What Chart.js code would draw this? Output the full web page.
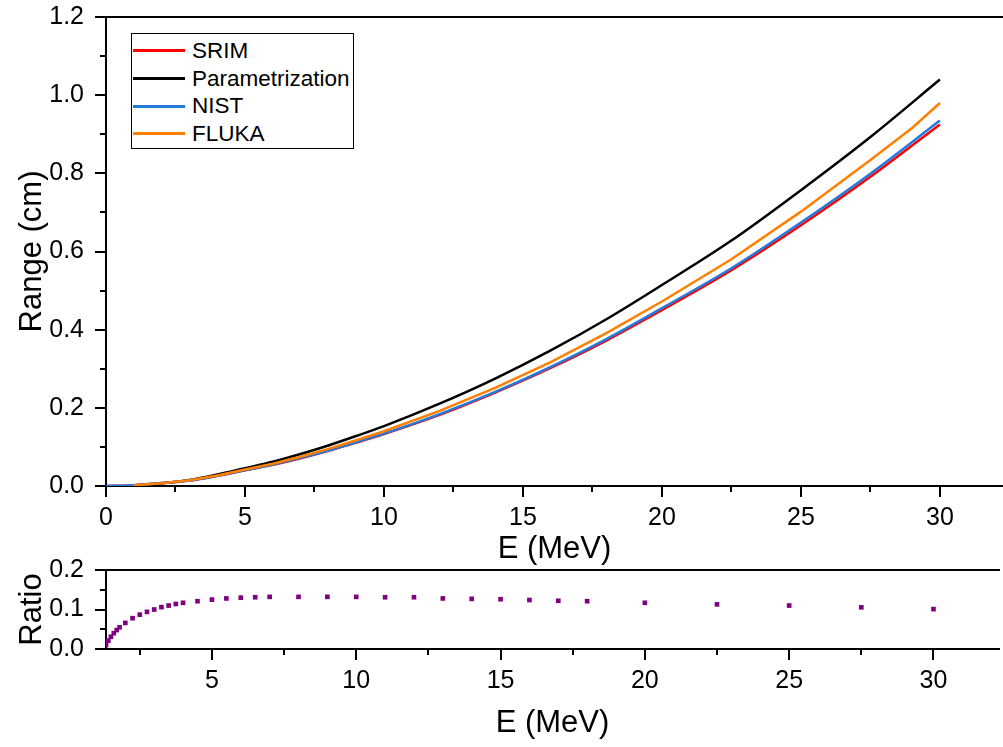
<!DOCTYPE html>
<html>
<head>
<meta charset="utf-8">
<title>Range vs E</title>
<script src="https://cdn.jsdelivr.net/npm/chart.js@4/dist/chart.umd.min.js"></script>
<style>
  body { margin: 0; background: #fff; width: 1003px; height: 747px; overflow: hidden; position: relative;
         font-family: "Liberation Sans", Arial, sans-serif; }
  #topWrap { position: absolute; left: 0; top: 0; width: 1003px; height: 568px; }
  #bottomWrap { position: absolute; left: 0; top: 554px; width: 1003px; height: 193px; }
  #legend { position: absolute; left: 131px; top: 33px; width: 223px; height: 116px; box-sizing: border-box;
            border: 1px solid #000; background: #fff; padding-top: 3px; }
  #legend .row { height: 27.7px; display: flex; align-items: center; font-size: 22.5px; color: #000; }
  #legend .swatch { width: 52px; height: 3px; margin-left: 1px; margin-right: 7px; }
</style>
</head>
<body>
<div id="topWrap"><canvas id="rangeChart" width="1003" height="568"></canvas></div>
<div id="bottomWrap"><canvas id="ratioChart" width="1003" height="193"></canvas></div>
<div id="legend"></div>
<script>
// energy grid for SRIM / NIST / Parametrization curves (MeV)
const energyMeV = [0, 1, 2, 3, 4, 5, 6, 7, 8, 9, 10, 12, 14, 16, 18, 20, 22.5, 25, 27.5, 30];
const srimRange  = [0, 0.002, 0.007, 0.014, 0.026, 0.040, 0.054, 0.071, 0.090, 0.111, 0.133, 0.182, 0.239, 0.302, 0.372, 0.450, 0.552, 0.667, 0.791, 0.925];
const nistRange  = [0, 0.002, 0.007, 0.014, 0.026, 0.040, 0.055, 0.072, 0.091, 0.112, 0.134, 0.184, 0.241, 0.305, 0.376, 0.455, 0.557, 0.674, 0.799, 0.935];
const paramRange = [null, 0.002, 0.0075, 0.0156, 0.0294, 0.0457, 0.0621, 0.0818, 0.1037, 0.1279, 0.1532, 0.2106, 0.2748, 0.3468, 0.4266, 0.5142, 0.628, 0.757, 0.893, 1.040];

// FLUKA has its own energy grid
const flukaEnergy = [1, 2, 3, 4, 5, 6, 7, 8, 9, 10, 12, 14, 16, 18, 20, 22.5, 25, 27.5, 29, 30];
const flukaRange  = [0.002, 0.007, 0.015, 0.027, 0.042, 0.057, 0.075, 0.095, 0.117, 0.140, 0.192, 0.251, 0.317, 0.391, 0.472, 0.580, 0.702, 0.834, 0.916, 0.980];

// ratio panel
const ratioEnergy = [1.33, 1.41, 1.5, 1.6, 1.7, 1.8, 2, 2.25, 2.5, 2.75, 3, 3.25, 3.5, 3.75, 4, 4.5, 5, 5.5, 6, 6.5, 7,
                     8, 9, 10, 11, 12, 13, 14, 15, 16, 17, 18, 20, 22.5, 25, 27.5, 30];
const ratioValues = [0.010, 0.021, 0.031, 0.040, 0.048, 0.055, 0.066, 0.078, 0.087, 0.094, 0.100, 0.106, 0.110, 0.114, 0.117, 0.121, 0.125, 0.128, 0.130, 0.131, 0.132,
                     0.132, 0.132, 0.132, 0.131, 0.131, 0.128, 0.127, 0.126, 0.124, 0.122, 0.121, 0.117, 0.113, 0.110, 0.1055, 0.101];

// tick values
const topXMajor = [0, 5, 10, 15, 20, 25, 30];
const topXMinor = [2.5, 7.5, 12.5, 17.5, 22.5, 27.5];
const topYMajor = [0, 0.2, 0.4, 0.6, 0.8, 1.0, 1.2];
const topYMinor = [0.1, 0.3, 0.5, 0.7, 0.9, 1.1];
const botXMajor = [5, 10, 15, 20, 25, 30];
const botXMinor = [2.5, 7.5, 12.5, 17.5, 22.5, 27.5];
const botYMajor = [0, 0.1, 0.2];
const botYMinor = [0.05, 0.15];

const FONT = '"Liberation Sans", Arial, sans-serif';
Chart.defaults.font.family = FONT;
Chart.defaults.color = '#000';

const pts = (xs, ys) => xs.map((x, i) => ({ x: x, y: ys[i] })).filter(p => p.y !== null);

// draws major/minor tick marks outside the axes
const tickMarks = {
  id: 'tickMarks',
  afterDraw(chart, args, opts) {
    const ctx = chart.ctx;
    ctx.save();
    ctx.strokeStyle = '#000';
    ctx.lineWidth = 2;
    ctx.beginPath();
    opts.marks.forEach(m => {
      const s = chart.scales[m.axis];
      [[m.major, 11], [m.minor, 6]].forEach(([vals, len]) => {
        vals.forEach(v => {
          const p = Math.round(s.getPixelForValue(v));
          if (s.isHorizontal()) { ctx.moveTo(p, s.top); ctx.lineTo(p, s.top + len); }
          else { ctx.moveTo(s.right, p); ctx.lineTo(s.right - len, p); }
        });
      });
    });
    ctx.stroke();
    ctx.restore();
  }
};

// no extra padding from tick labels; the layout padding places the plot area
const noPad = s => { s.paddingTop = 0; s.paddingBottom = 0; s.paddingLeft = 0; s.paddingRight = 0; };

function xAxis(min, max, major, height, titlePadBottom) {
  return {
    type: 'linear', min: min, max: max,
    afterBuildTicks: s => { s.ticks = major.map(v => ({ value: v })); },
    afterFit: s => { s.height = height; noPad(s); },
    grid: { display: false, drawTicks: false },
    border: { display: true, color: '#000', width: 2 },
    ticks: { padding: 17, font: { size: 25 }, maxRotation: 0, autoSkip: false, callback: v => String(v) },
    title: { display: true, text: 'E (MeV)', font: { size: 31 }, padding: { top: 0, bottom: titlePadBottom } }
  };
}
function yAxis(min, max, major, title) {
  return {
    min: min, max: max,
    afterBuildTicks: s => { s.ticks = major.map(v => ({ value: v })); },
    afterFit: s => { s.width = 106; noPad(s); },
    grid: { display: false, drawTicks: false },
    border: { display: true, color: '#000', width: 2 },
    ticks: { padding: 22, font: { size: 25 }, autoSkip: false, callback: v => v.toFixed(1) },
    title: { display: true, text: title, font: { size: 31 }, padding: { top: 14, bottom: 0 } }
  };
}
const topBorder = {
  type: 'linear', position: 'top', min: 0, max: 1,
  afterFit: s => { s.height = 0; noPad(s); },
  grid: { display: false, drawTicks: false },
  ticks: { display: false },
  border: { display: true, color: '#000', width: 2 }
};

const rangeChart = new Chart(document.getElementById('rangeChart'), {
  type: 'line',
  data: {
    datasets: [
      { label: 'SRIM', data: pts(energyMeV, srimRange), borderColor: '#ff0000', order: 4, cubicInterpolationMode: 'monotone' },
      { label: 'Parametrization', data: pts(energyMeV, paramRange), borderColor: '#000000', order: 3, cubicInterpolationMode: 'monotone' },
      { label: 'NIST', data: pts(energyMeV, nistRange), borderColor: '#2479dc', order: 2, cubicInterpolationMode: 'monotone' },
      { label: 'FLUKA', data: pts(flukaEnergy, flukaRange), borderColor: '#ff8000', order: 1 }
    ]
  },
  options: {
    responsive: false,
    animation: false,
    layout: { padding: { top: 17, left: 0, right: 0, bottom: 0 } },
    elements: { line: { borderWidth: 2.5, fill: false }, point: { radius: 0 } },
    scales: {
      x: xAxis(0, 32.27, topXMajor, 82, 0),
      xTop: topBorder,
      y: yAxis(0, 1.2, topYMajor, 'Range (cm)')
    },
    plugins: {
      legend: { display: false },
      tooltip: { enabled: false },
      tickMarks: { marks: [
        { axis: 'x', major: topXMajor, minor: topXMinor },
        { axis: 'y', major: topYMajor, minor: topYMinor }
      ] }
    }
  },
  plugins: [tickMarks]
});

new Chart(document.getElementById('ratioChart'), {
  type: 'scatter',
  data: {
    datasets: [
      { label: 'Ratio', data: pts(ratioEnergy, ratioValues), backgroundColor: '#800080', borderWidth: 0,
        pointStyle: 'rect', pointRadius: 3.3 }
    ]
  },
  options: {
    responsive: false,
    animation: false,
    layout: { padding: { top: 16, left: 0, right: 0, bottom: 0 } },
    scales: {
      x: xAxis(1.33, 32.27, botXMajor, 98, 5),
      xTop: topBorder,
      y: yAxis(0, 0.2, botYMajor, 'Ratio')
    },
    plugins: {
      legend: { display: false },
      tooltip: { enabled: false },
      tickMarks: { marks: [
        { axis: 'x', major: botXMajor, minor: botXMinor },
        { axis: 'y', major: botYMajor, minor: botYMinor }
      ] }
    }
  },
  plugins: [tickMarks]
});

// legend box built from the range chart datasets
const legend = document.getElementById('legend');
rangeChart.data.datasets.forEach(ds => {
  const row = document.createElement('div');
  row.className = 'row';
  const sw = document.createElement('span');
  sw.className = 'swatch';
  sw.style.background = ds.borderColor;
  const txt = document.createElement('span');
  txt.textContent = ds.label;
  row.appendChild(sw);
  row.appendChild(txt);
  legend.appendChild(row);
});
</script>
</body>
</html>
